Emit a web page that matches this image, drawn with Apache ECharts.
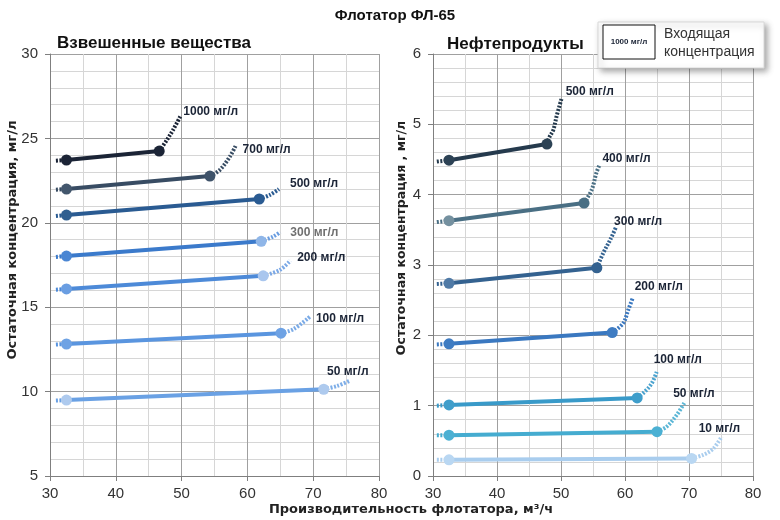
<!DOCTYPE html>
<html>
<head>
<meta charset="utf-8">
<script src="https://cdn.jsdelivr.net/npm/echarts@6/dist/echarts.min.js"></script>
<style>
html,body{margin:0;padding:0;background:#fff;}
#chart{width:780px;height:520px;}
</style>
</head>
<body>
<div id="chart"></div>
<script>
// ---------- DATA ----------
const chartTitle = 'Флотатор ФЛ-65';
const leftTitle = 'Взвешенные вещества';
const rightTitle = 'Нефтепродукты';
const leftYName = 'Остаточная концентрация, мг/л';
const rightYName = 'Остаточная концентрация , мг/л';
const xName = 'Производительность флотатора, м³/ч';
const legendSample = '1000 мг/л';
const legendText = ['Входящая', 'концентрация'];

const xTicks = [30, 40, 50, 60, 70, 80];
const leftYTicks = [5, 10, 15, 20, 25, 30];
const rightYTicks = [0, 1, 2, 3, 4, 5, 6];

// Suspended solids (left)
const tssLabels = ['1000 мг/л', '700 мг/л', '500 мг/л', '300 мг/л', '200 мг/л', '100 мг/л', '50 мг/л'];
const tssLead = [
  [[30.9, 23.68], [32.5, 23.72]],
  [[30.9, 21.96], [32.5, 22.0]],
  [[30.9, 20.4], [32.5, 20.46]],
  [[30.9, 17.98], [32.5, 18.03]],
  [[30.9, 16.04], [32.5, 16.08]],
  [[30.9, 12.79], [32.5, 12.82]],
  [[30.9, 9.47], [32.5, 9.5]]
];
const tssSolid = [
  [[32.5, 23.72], [46.6, 24.25]],
  [[32.5, 22.0], [54.3, 22.77]],
  [[32.5, 20.46], [61.8, 21.41]],
  [[32.5, 18.03], [62.1, 18.9]],
  [[32.5, 16.08], [62.4, 16.86]],
  [[32.5, 12.82], [65.1, 13.46]],
  [[32.5, 9.5], [71.6, 10.14]]
];
const tssCurve = [
  [[46.6, 24.25], [47.75, 24.9], [48.7, 25.5], [49.8, 26.3]],
  [[54.3, 22.77], [55.8, 23.13], [57.3, 23.9], [58.2, 24.55]],
  [[61.8, 21.41], [63.4, 21.65], [64.8, 22.0]],
  [[62.1, 18.9], [63.9, 19.18], [65.0, 19.45]],
  [[62.4, 16.86], [64.9, 17.2], [66.5, 17.75]],
  [[65.1, 13.46], [67.0, 13.7], [69.5, 14.44]],
  [[71.6, 10.14], [73.6, 10.33], [75.6, 10.65]]
];

// Oil products (right)
const oilLabels = ['500 мг/л', '400 мг/л', '300 мг/л', '200 мг/л', '100 мг/л', '50 мг/л', '10 мг/л'];
const oilLead = [
  [[30.6, 4.47], [32.5, 4.49]],
  [[30.6, 3.61], [32.5, 3.63]],
  [[30.6, 2.73], [32.5, 2.74]],
  [[30.6, 1.87], [32.5, 1.88]],
  [[30.6, 1.0], [32.5, 1.01]],
  [[30.6, 0.58], [32.5, 0.58]],
  [[30.6, 0.23], [32.5, 0.23]]
];
const oilSolid = [
  [[32.5, 4.49], [47.8, 4.72]],
  [[32.5, 3.63], [53.6, 3.88]],
  [[32.5, 2.74], [55.6, 2.96]],
  [[32.5, 1.88], [58.0, 2.04]],
  [[32.5, 1.01], [61.9, 1.11]],
  [[32.5, 0.58], [65.0, 0.63]],
  [[32.5, 0.23], [70.4, 0.25]]
];
const oilCurve = [
  [[47.8, 4.72], [48.2, 4.82], [48.8, 4.92], [49.3, 5.11], [50.1, 5.37]],
  [[53.6, 3.88], [54.8, 4.07], [55.5, 4.30], [56.0, 4.42]],
  [[55.6, 2.96], [56.6, 3.17], [57.7, 3.36], [58.6, 3.54]],
  [[58.0, 2.04], [59.7, 2.17], [60.5, 2.36], [61.2, 2.53]],
  [[61.9, 1.11], [63.1, 1.20], [64.2, 1.32], [64.95, 1.48]],
  [[65.0, 0.63], [66.5, 0.70], [68.1, 0.87], [69.4, 1.06]],
  [[70.4, 0.25], [72.2, 0.30], [73.8, 0.39], [75.1, 0.56]]
];

// ---------- STYLE ----------
const tssStyle = [
  {line: '#1b2436', m0: '#1b2436', m1: '#1b2436', curve: '#1b2436', label: '#1b2436', off: [-2, -5]},
  {line: '#384c63', m0: '#43576d', m1: '#3e5269', curve: '#384c63', label: '#1b2436', off: [2, 4]},
  {line: '#2a5b92', m0: '#2f5f90', m1: '#2a5b92', curve: '#2a5b92', label: '#1b2436', off: [6, -5]},
  {line: '#3b7acb', m0: '#4a86d3', m1: '#8fb6e8', curve: '#6a9de0', label: '#707070', off: [5, 1]},
  {line: '#4d8ad8', m0: '#6a9ee2', m1: '#a9c6ee', curve: '#7aa8e6', label: '#1b2436', off: [2, -3]},
  {line: '#5a95df', m0: '#6ea2e4', m1: '#6ea2e4', curve: '#7aaae6', label: '#1b2436', off: [1, 2]},
  {line: '#6aa1e4', m0: '#aecaee', m1: '#aecaee', curve: '#7eaee8', label: '#1b2436', off: [-28, -9]}
];
const oilStyle = [
  {line: '#253a4d', m0: '#2c4255', m1: '#2c4255', curve: '#253a4d', label: '#1b2436', off: [-1, -7]},
  {line: '#4a6f84', m0: '#74909f', m1: '#4a6f84', curve: '#4a6f84', label: '#1b2436', off: [-2, -6]},
  {line: '#346290', m0: '#4f7aa6', m1: '#346290', curve: '#346290', label: '#1b2436', off: [-7, -5]},
  {line: '#3a78c0', m0: '#3f7cc2', m1: '#3f7cc2', curve: '#3a78c0', label: '#1b2436', off: [-3, -11]},
  {line: '#399ac9', m0: '#3f9ecb', m1: '#3f9ecb', curve: '#4aa3cf', label: '#1b2436', off: [-8, -12]},
  {line: '#45acd0', m0: '#4bb0d3', m1: '#4bb0d3', curve: '#5ab6d6', label: '#1b2436', off: [-17, -8]},
  {line: '#a9cdee', m0: '#b9d7f2', m1: '#b9d7f2', curve: '#a9cdee', label: '#1b2436', off: [-28, -8]}
];

const numFont = '"Liberation Sans", Arial, sans-serif';
const dotted = [2, 1.5];

function buildSeries(idx, labels, lead, solid, curve, styles) {
  const out = [];
  labels.forEach((lab, i) => {
    const st = styles[i];
    out.push({
      type: 'line', xAxisIndex: idx, yAxisIndex: idx, data: lead[i],
      symbol: 'none', silent: true, z: 2,
      lineStyle: {color: st.line, width: 4, type: dotted, cap: 'butt'}
    });
    out.push({
      type: 'line', name: lab, xAxisIndex: idx, yAxisIndex: idx, z: 3,
      data: solid[i].map((p, k) => ({value: p, itemStyle: {color: k === 0 ? st.m0 : st.m1}})),
      symbol: 'circle', symbolSize: 11, showSymbol: true,
      itemStyle: {color: st.line, borderWidth: 0},
      lineStyle: {color: st.line, width: 4}
    });
    out.push({
      type: 'line', name: lab, xAxisIndex: idx, yAxisIndex: idx, data: curve[i], z: 2,
      symbol: 'none', smooth: 0.35, silent: true,
      lineStyle: {color: st.curve, width: 4, type: dotted, cap: 'butt'},
      endLabel: {
        show: true, formatter: '{a}', distance: 5, offset: st.off,
        color: st.label, fontSize: 12, fontWeight: 'bold', fontFamily: numFont
      }
    });
  });
  return out;
}

function xAxisCfg(gi) {
  return {
    gridIndex: gi, type: 'value', min: xTicks[0], max: xTicks[xTicks.length - 1], interval: 10,
    axisLine: {show: true, lineStyle: {color: '#7f7f7f', width: 1}},
    axisTick: {show: true, length: 5, lineStyle: {color: '#7f7f7f'}},
    minorTick: {show: false, splitNumber: 2},
    splitLine: {show: true, lineStyle: {color: '#a0a0a0', width: 1}},
    minorSplitLine: {show: true, lineStyle: {color: '#d6d6d6', width: 1}},
    axisLabel: {fontSize: 15, color: '#333', fontFamily: numFont, margin: 10}
  };
}
function yAxisCfg(gi, ticks) {
  return {
    gridIndex: gi, type: 'value', min: ticks[0], max: ticks[ticks.length - 1], interval: ticks[1] - ticks[0],
    axisLine: {show: true, lineStyle: {color: '#7f7f7f', width: 1}},
    axisTick: {show: true, length: 5, lineStyle: {color: '#7f7f7f'}},
    minorTick: {show: false, splitNumber: 5},
    splitLine: {show: true, lineStyle: {color: '#a0a0a0', width: 1}},
    minorSplitLine: {show: true, lineStyle: {color: '#d6d6d6', width: 1}},
    axisLabel: {fontSize: 15, color: '#333', fontFamily: numFont, margin: 12}
  };
}

const chart = echarts.init(document.getElementById('chart'), null, {renderer: 'canvas'});
const option = {
  animation: false,
  backgroundColor: '#ffffff',
  grid: [
    {left: 50, right: 401, top: 54, bottom: 44},
    {left: 433, right: 27, top: 54, bottom: 44}
  ],
  xAxis: [xAxisCfg(0), xAxisCfg(1)],
  yAxis: [yAxisCfg(0, leftYTicks), yAxisCfg(1, rightYTicks)],
  series: [].concat(
    buildSeries(0, tssLabels, tssLead, tssSolid, tssCurve, tssStyle),
    buildSeries(1, oilLabels, oilLead, oilSolid, oilCurve, oilStyle)
  ),
  graphic: [
    {type: 'text', x: 395, y: 16, z: 100,
     style: {text: chartTitle, textAlign: 'center', textVerticalAlign: 'middle', font: 'bold 15px "Liberation Sans", Arial, sans-serif', fill: '#111'}},
    {type: 'text', x: 57, y: 43, z: 100,
     style: {text: leftTitle, textAlign: 'left', textVerticalAlign: 'middle', font: 'bold 17px "Liberation Sans", Arial, sans-serif', fill: '#111'}},
    {type: 'text', x: 447, y: 44, z: 100,
     style: {text: rightTitle, textAlign: 'left', textVerticalAlign: 'middle', font: 'bold 17px "Liberation Sans", Arial, sans-serif', fill: '#111'}},
    {type: 'text', x: 13, y: 240, rotation: Math.PI / 2, z: 100,
     style: {text: leftYName, textAlign: 'center', textVerticalAlign: 'middle', font: 'bold 13px "DejaVu Sans", sans-serif', fill: '#222'}},
    {type: 'text', x: 402, y: 238, rotation: Math.PI / 2, z: 100,
     style: {text: rightYName, textAlign: 'center', textVerticalAlign: 'middle', font: 'bold 12.5px "DejaVu Sans", sans-serif', fill: '#222'}},
    {type: 'text', x: 411, y: 510, z: 100,
     style: {text: xName, textAlign: 'center', textVerticalAlign: 'middle', font: 'bold 13px "DejaVu Sans", sans-serif', fill: '#222'}},
    {type: 'rect', z: 100, shape: {x: 598, y: 22, width: 166, height: 46},
     style: {fill: '#ffffff', stroke: '#d8d8d8', lineWidth: 1, shadowBlur: 6, shadowOffsetX: 3, shadowOffsetY: 3, shadowColor: 'rgba(0,0,0,0.35)'}},
    {type: 'rect', z: 101, shape: {x: 603, y: 25, width: 52, height: 34},
     style: {fill: '#ffffff', stroke: '#111', lineWidth: 1}},
    {type: 'text', x: 629, y: 42, z: 102,
     style: {text: legendSample, textAlign: 'center', textVerticalAlign: 'middle', font: 'bold 8px "Liberation Sans", Arial, sans-serif', fill: '#1b2436'}},
    {type: 'text', x: 664, y: 34, z: 102,
     style: {text: legendText[0], textAlign: 'left', textVerticalAlign: 'middle', font: '14px "Liberation Sans", Arial, sans-serif', fill: '#333'}},
    {type: 'text', x: 664, y: 52, z: 102,
     style: {text: legendText[1], textAlign: 'left', textVerticalAlign: 'middle', font: '14px "Liberation Sans", Arial, sans-serif', fill: '#333'}}
  ]
};
chart.setOption(option);
</script>
</body>
</html>
